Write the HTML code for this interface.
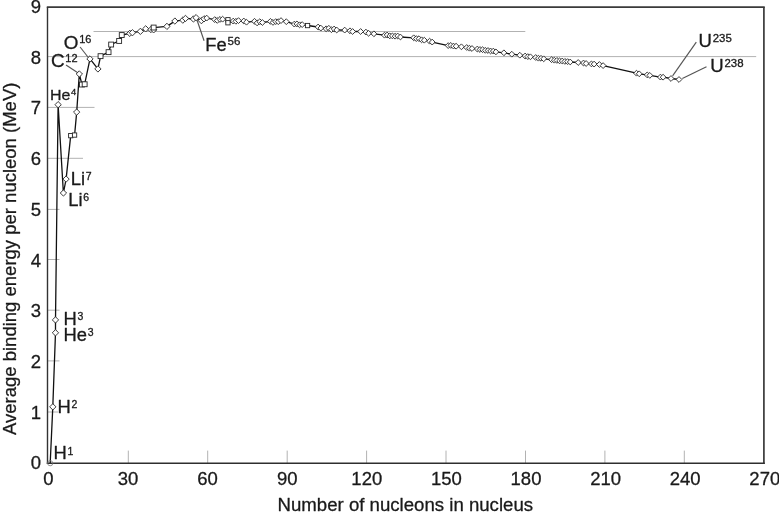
<!DOCTYPE html>
<html lang="en"><head><meta charset="utf-8"><title>Binding energy per nucleon</title>
<style>
html,body{margin:0;padding:0;background:#fff;}
svg{display:block;font-family:"Liberation Sans",Arial,Helvetica,sans-serif;fill:#1a1a1a;}
text{stroke:#1a1a1a;stroke-width:0.3px;stroke-linejoin:round}
.t{font-size:18.5px}
.l{font-size:17.5px}
.s{font-size:11px}
.s2{font-size:9.5px}
.g{stroke:#b2b2b2;stroke-width:1;fill:none}
.ld{stroke:#555;stroke-width:1.15;fill:none}
.m{fill:#fff;stroke:#262626;stroke-width:0.9}
</style></head><body>
<svg width="779" height="512" viewBox="0 0 779 512">
<rect width="779" height="512" fill="#fff"/>
<line class="g" x1="93.5" y1="31.5" x2="525.3" y2="31.5"/>
<line class="g" x1="48" y1="56.6" x2="756.2" y2="56.6"/>
<line class="g" x1="48" y1="107.4" x2="94.5" y2="107.4"/>
<line class="g" x1="48" y1="158.3" x2="83" y2="158.3"/>
<line class="g" x1="48" y1="209.4" x2="59.5" y2="209.4"/>
<line class="g" x1="48" y1="259.5" x2="59.5" y2="259.5"/>
<line class="g" x1="48" y1="310.2" x2="59.5" y2="310.2"/>
<line class="g" x1="48" y1="360.9" x2="59.5" y2="360.9"/>
<line class="g" x1="48" y1="412.0" x2="58" y2="412.0"/>
<line class="g" x1="128.3" y1="450.6" x2="128.3" y2="463"/>
<line class="g" x1="207.7" y1="450.6" x2="207.7" y2="463"/>
<line class="g" x1="287.2" y1="450.6" x2="287.2" y2="463"/>
<line class="g" x1="366.6" y1="450.6" x2="366.6" y2="463"/>
<line class="g" x1="446.0" y1="450.6" x2="446.0" y2="463"/>
<line class="g" x1="525.5" y1="450.6" x2="525.5" y2="463"/>
<line class="g" x1="604.9" y1="450.6" x2="604.9" y2="463"/>
<line class="g" x1="684.3" y1="450.6" x2="684.3" y2="463"/>
<line x1="46.8" y1="7.05" x2="764.75" y2="7.05" stroke="#3a3a3a" stroke-width="1.8"/>
<line x1="47.5" y1="7.05" x2="47.5" y2="463.9" stroke="#333" stroke-width="1.4"/>
<line x1="763.9" y1="7.05" x2="763.9" y2="463.9" stroke="#3a3a3a" stroke-width="1.7"/>
<line x1="46.8" y1="463.2" x2="764.75" y2="463.2" stroke="#2e2e2e" stroke-width="1.35"/>
<line class="ld" x1="80.1" y1="47" x2="88.3" y2="57.5"/>
<line class="ld" x1="66" y1="65.1" x2="77.8" y2="72.8"/>
<line class="ld" x1="196.9" y1="19.8" x2="204.1" y2="40.8"/>
<line class="ld" x1="696.3" y1="42.2" x2="672.6" y2="75.9"/>
<line class="ld" x1="706.5" y1="66.8" x2="682.3" y2="78.5"/>
<path d="M50.2 463.2 L52.8 406.8 L55.5 332.8 L55.5 319.9 L58.1 104.7 L63.4 193.0 L66.1 179.1 L70.7 135.6 L74.6 135.0 L76.7 112.1 L79.3 74.0 L82.0 84.6 L84.6 84.3 L90.0 58.9 L97.9 68.9 L100.6 56.1 L108.5 52.1 L111.2 44.5 L119.1 40.9 L121.8 35.0 L129.8 33.4 L132.4 32.7 L140.4 31.4 L145.7 28.8 L151.0 29.5 L153.6 29.8 L153.6 27.6 L166.9 26.4 L174.9 21.1 L182.8 20.1 L185.5 18.4 L193.4 19.0 L196.1 17.7 L201.4 20.6 L204.0 18.8 L206.7 18.1 L214.7 19.6 L217.3 20.4 L220.0 19.4 L222.6 19.2 L227.9 19.7 L227.9 22.8 L233.2 21.1 L235.9 21.3 L238.5 20.6 L243.8 21.0 L246.5 22.2 L254.5 21.3 L257.1 22.9 L259.8 21.7 L262.4 22.5 L270.4 21.4 L273.0 22.4 L275.7 21.6 L278.3 21.7 L281.0 20.6 L286.3 21.7 L294.3 24.1 L296.9 23.9 L299.6 24.8 L302.2 24.6 L307.5 25.5 L318.1 27.0 L320.8 28.1 L326.1 28.8 L328.8 28.3 L331.4 29.7 L334.1 29.0 L336.7 30.0 L344.7 30.1 L350.0 30.8 L352.6 31.5 L360.6 31.5 L365.9 32.1 L368.6 33.3 L373.9 33.8 L384.5 35.2 L387.1 35.0 L389.8 35.9 L392.4 35.9 L395.1 36.2 L397.7 36.0 L400.4 37.0 L413.7 37.8 L416.3 38.6 L419.0 38.7 L421.6 39.8 L424.3 40.2 L429.6 41.2 L432.2 42.1 L448.2 45.6 L450.8 45.4 L453.5 46.1 L456.1 46.2 L461.4 46.8 L466.7 47.5 L469.4 48.2 L472.0 48.5 L477.3 49.0 L480.0 49.5 L482.6 49.7 L485.3 50.3 L488.0 50.5 L490.6 51.0 L493.3 51.1 L495.9 51.9 L503.9 52.8 L511.8 54.2 L519.8 55.2 L525.1 56.0 L527.8 56.6 L530.4 56.8 L535.7 57.5 L538.4 58.2 L541.0 58.3 L543.7 58.8 L551.6 59.7 L554.3 60.2 L556.9 60.4 L559.6 60.9 L562.2 61.0 L564.9 61.4 L567.6 61.6 L570.2 62.0 L578.2 62.5 L583.5 63.0 L586.1 63.5 L591.4 63.9 L594.1 64.1 L599.4 64.5 L603.1 65.6 L636.5 73.2 L639.2 73.8 L647.2 74.9 L649.8 75.4 L660.4 77.1 L663.1 77.2 L671.0 78.5 L679.0 79.5" fill="none" stroke="#111" stroke-width="1.3" stroke-linejoin="round"/>
<circle cx="50.2" cy="463.2" r="2.6" fill="none" stroke="#777" stroke-width="0.8"/>
<path class="m" d="M49.7 406.8L52.8 403.7L56.0 406.8L52.8 410.0Z"/>
<path class="m" d="M52.3 332.8L55.5 329.6L58.6 332.8L55.5 335.9Z"/>
<path class="m" d="M52.3 319.9L55.5 316.8L58.6 319.9L55.5 323.1Z"/>
<path class="m" d="M55.0 104.7L58.1 101.5L61.3 104.7L58.1 107.8Z"/>
<path class="m" d="M60.3 193.0L63.4 189.8L66.6 193.0L63.4 196.1Z"/>
<path class="m" d="M62.9 179.1L66.1 175.9L69.2 179.1L66.1 182.2Z"/>
<rect class="m" x="68.6" y="133.5" width="4.3" height="4.3"/>
<rect class="m" x="72.4" y="132.9" width="4.3" height="4.3"/>
<path class="m" d="M73.5 112.1L76.7 108.9L79.8 112.1L76.7 115.2Z"/>
<path class="m" d="M76.2 74.0L79.3 70.8L82.5 74.0L79.3 77.1Z"/>
<rect class="m" x="79.5" y="82.1" width="4.9" height="4.9"/>
<rect class="m" x="82.2" y="81.8" width="4.9" height="4.9"/>
<path class="m" d="M86.8 58.9L90.0 55.8L93.1 58.9L90.0 62.1Z"/>
<path class="m" d="M94.8 68.9L97.9 65.8L101.1 68.9L97.9 72.1Z"/>
<rect class="m" x="98.1" y="53.7" width="4.9" height="4.9"/>
<rect class="m" x="106.1" y="49.7" width="4.9" height="4.9"/>
<rect class="m" x="108.7" y="42.1" width="4.9" height="4.9"/>
<rect class="m" x="116.7" y="38.5" width="4.9" height="4.9"/>
<rect class="m" x="119.3" y="32.6" width="4.9" height="4.9"/>
<path class="m" d="M126.6 33.4L129.8 30.2L132.9 33.4L129.8 36.5Z"/>
<path class="m" d="M129.3 32.7L132.4 29.6L135.6 32.7L132.4 35.9Z"/>
<path class="m" d="M137.2 31.4L140.4 28.2L143.5 31.4L140.4 34.5Z"/>
<path class="m" d="M142.5 28.8L145.7 25.7L148.8 28.8L145.7 32.0Z"/>
<path class="m" d="M147.8 29.5L151.0 26.4L154.1 29.5L151.0 32.7Z"/>
<path class="m" d="M150.5 29.8L153.6 26.7L156.8 29.8L153.6 33.0Z"/>
<rect class="m" x="151.2" y="25.1" width="4.9" height="4.9"/>
<path class="m" d="M163.8 26.4L166.9 23.2L170.1 26.4L166.9 29.5Z"/>
<path class="m" d="M171.7 21.1L174.9 17.9L178.0 21.1L174.9 24.2Z"/>
<path class="m" d="M179.7 20.1L182.8 17.0L186.0 20.1L182.8 23.3Z"/>
<path class="m" d="M182.3 18.4L185.5 15.3L188.6 18.4L185.5 21.6Z"/>
<path class="m" d="M190.3 19.0L193.4 15.8L196.6 19.0L193.4 22.1Z"/>
<path class="m" d="M192.9 17.7L196.1 14.5L199.2 17.7L196.1 20.8Z"/>
<path class="m" d="M198.2 20.6L201.4 17.5L204.5 20.6L201.4 23.8Z"/>
<path class="m" d="M200.9 18.8L204.0 15.7L207.2 18.8L204.0 22.0Z"/>
<path class="m" d="M203.8 18.1L206.7 15.2L209.6 18.1L206.7 21.0Z"/>
<path class="m" d="M211.8 19.6L214.7 16.7L217.6 19.6L214.7 22.5Z"/>
<path class="m" d="M214.4 20.4L217.3 17.5L220.2 20.4L217.3 23.3Z"/>
<path class="m" d="M217.1 19.4L220.0 16.5L222.9 19.4L220.0 22.3Z"/>
<path class="m" d="M219.7 19.2L222.6 16.3L225.5 19.2L222.6 22.1Z"/>
<rect class="m" x="225.8" y="17.6" width="4.3" height="4.3"/>
<rect class="m" x="225.8" y="20.6" width="4.3" height="4.3"/>
<path class="m" d="M230.3 21.1L233.2 18.2L236.1 21.1L233.2 24.0Z"/>
<path class="m" d="M233.0 21.3L235.9 18.4L238.8 21.3L235.9 24.2Z"/>
<path class="m" d="M235.6 20.6L238.5 17.7L241.4 20.6L238.5 23.5Z"/>
<path class="m" d="M240.9 21.0L243.8 18.1L246.7 21.0L243.8 23.9Z"/>
<path class="m" d="M243.6 22.2L246.5 19.3L249.4 22.2L246.5 25.1Z"/>
<path class="m" d="M251.6 21.3L254.5 18.4L257.4 21.3L254.5 24.2Z"/>
<path class="m" d="M254.2 22.9L257.1 20.0L260.0 22.9L257.1 25.8Z"/>
<path class="m" d="M256.9 21.7L259.8 18.8L262.7 21.7L259.8 24.6Z"/>
<path class="m" d="M259.5 22.5L262.4 19.6L265.3 22.5L262.4 25.4Z"/>
<path class="m" d="M267.5 21.4L270.4 18.5L273.3 21.4L270.4 24.3Z"/>
<path class="m" d="M270.1 22.4L273.0 19.5L275.9 22.4L273.0 25.3Z"/>
<path class="m" d="M272.8 21.6L275.7 18.7L278.6 21.6L275.7 24.5Z"/>
<path class="m" d="M275.4 21.7L278.3 18.8L281.2 21.7L278.3 24.6Z"/>
<path class="m" d="M278.1 20.6L281.0 17.7L283.9 20.6L281.0 23.5Z"/>
<path class="m" d="M283.4 21.7L286.3 18.8L289.2 21.7L286.3 24.6Z"/>
<path class="m" d="M291.4 24.1L294.3 21.2L297.2 24.1L294.3 27.0Z"/>
<path class="m" d="M294.0 23.9L296.9 21.0L299.8 23.9L296.9 26.8Z"/>
<path class="m" d="M296.7 24.8L299.6 21.9L302.5 24.8L299.6 27.7Z"/>
<path class="m" d="M299.3 24.6L302.2 21.7L305.1 24.6L302.2 27.5Z"/>
<rect class="m" x="305.4" y="23.4" width="4.3" height="4.3"/>
<path class="m" d="M315.2 27.0L318.1 24.1L321.0 27.0L318.1 29.9Z"/>
<path class="m" d="M317.9 28.1L320.8 25.2L323.7 28.1L320.8 31.0Z"/>
<path class="m" d="M323.2 28.8L326.1 25.9L329.0 28.8L326.1 31.7Z"/>
<path class="m" d="M325.9 28.3L328.8 25.4L331.7 28.3L328.8 31.2Z"/>
<path class="m" d="M328.5 29.7L331.4 26.8L334.3 29.7L331.4 32.6Z"/>
<path class="m" d="M331.2 29.0L334.1 26.1L337.0 29.0L334.1 31.9Z"/>
<path class="m" d="M333.8 30.0L336.7 27.1L339.6 30.0L336.7 32.9Z"/>
<path class="m" d="M341.8 30.1L344.7 27.2L347.6 30.1L344.7 33.0Z"/>
<path class="m" d="M347.1 30.8L350.0 27.9L352.9 30.8L350.0 33.7Z"/>
<path class="m" d="M349.7 31.5L352.6 28.6L355.5 31.5L352.6 34.4Z"/>
<path class="m" d="M357.7 31.5L360.6 28.6L363.5 31.5L360.6 34.4Z"/>
<path class="m" d="M363.0 32.1L365.9 29.2L368.8 32.1L365.9 35.0Z"/>
<path class="m" d="M365.7 33.3L368.6 30.4L371.5 33.3L368.6 36.2Z"/>
<path class="m" d="M371.0 33.8L373.9 30.9L376.8 33.8L373.9 36.7Z"/>
<path class="m" d="M381.6 35.2L384.5 32.3L387.4 35.2L384.5 38.1Z"/>
<path class="m" d="M384.2 35.0L387.1 32.1L390.0 35.0L387.1 37.9Z"/>
<path class="m" d="M386.9 35.9L389.8 33.0L392.7 35.9L389.8 38.8Z"/>
<path class="m" d="M389.5 35.9L392.4 33.0L395.3 35.9L392.4 38.8Z"/>
<path class="m" d="M392.2 36.2L395.1 33.3L398.0 36.2L395.1 39.1Z"/>
<path class="m" d="M394.8 36.0L397.7 33.1L400.6 36.0L397.7 38.9Z"/>
<path class="m" d="M397.5 37.0L400.4 34.1L403.3 37.0L400.4 39.9Z"/>
<path class="m" d="M410.8 37.8L413.7 34.9L416.6 37.8L413.7 40.7Z"/>
<path class="m" d="M413.4 38.6L416.3 35.7L419.2 38.6L416.3 41.5Z"/>
<path class="m" d="M416.1 38.7L419.0 35.8L421.9 38.7L419.0 41.6Z"/>
<path class="m" d="M418.7 39.8L421.6 36.9L424.5 39.8L421.6 42.7Z"/>
<path class="m" d="M421.4 40.2L424.3 37.3L427.2 40.2L424.3 43.1Z"/>
<path class="m" d="M426.7 41.2L429.6 38.3L432.5 41.2L429.6 44.1Z"/>
<path class="m" d="M429.3 42.1L432.2 39.2L435.1 42.1L432.2 45.0Z"/>
<path class="m" d="M445.3 45.6L448.2 42.7L451.1 45.6L448.2 48.5Z"/>
<path class="m" d="M447.9 45.4L450.8 42.5L453.7 45.4L450.8 48.3Z"/>
<path class="m" d="M450.6 46.1L453.5 43.2L456.4 46.1L453.5 49.0Z"/>
<path class="m" d="M453.2 46.2L456.1 43.3L459.0 46.2L456.1 49.1Z"/>
<path class="m" d="M458.5 46.8L461.4 43.9L464.3 46.8L461.4 49.7Z"/>
<path class="m" d="M463.8 47.5L466.7 44.6L469.6 47.5L466.7 50.4Z"/>
<path class="m" d="M466.5 48.2L469.4 45.3L472.3 48.2L469.4 51.1Z"/>
<path class="m" d="M469.1 48.5L472.0 45.6L474.9 48.5L472.0 51.4Z"/>
<path class="m" d="M474.4 49.0L477.3 46.1L480.2 49.0L477.3 51.9Z"/>
<path class="m" d="M477.1 49.5L480.0 46.6L482.9 49.5L480.0 52.4Z"/>
<path class="m" d="M479.7 49.7L482.6 46.8L485.5 49.7L482.6 52.6Z"/>
<path class="m" d="M482.4 50.3L485.3 47.4L488.2 50.3L485.3 53.2Z"/>
<path class="m" d="M485.1 50.5L488.0 47.6L490.9 50.5L488.0 53.4Z"/>
<path class="m" d="M487.7 51.0L490.6 48.1L493.5 51.0L490.6 53.9Z"/>
<path class="m" d="M490.4 51.1L493.3 48.2L496.2 51.1L493.3 54.0Z"/>
<path class="m" d="M493.0 51.9L495.9 49.0L498.8 51.9L495.9 54.8Z"/>
<path class="m" d="M501.0 52.8L503.9 49.9L506.8 52.8L503.9 55.7Z"/>
<path class="m" d="M508.9 54.2L511.8 51.3L514.7 54.2L511.8 57.1Z"/>
<path class="m" d="M516.9 55.2L519.8 52.3L522.7 55.2L519.8 58.1Z"/>
<path class="m" d="M522.2 56.0L525.1 53.1L528.0 56.0L525.1 58.9Z"/>
<path class="m" d="M524.9 56.6L527.8 53.7L530.7 56.6L527.8 59.5Z"/>
<path class="m" d="M527.5 56.8L530.4 53.9L533.3 56.8L530.4 59.7Z"/>
<path class="m" d="M532.8 57.5L535.7 54.6L538.6 57.5L535.7 60.4Z"/>
<path class="m" d="M535.5 58.2L538.4 55.3L541.3 58.2L538.4 61.1Z"/>
<path class="m" d="M538.1 58.3L541.0 55.4L543.9 58.3L541.0 61.2Z"/>
<path class="m" d="M540.8 58.8L543.7 55.9L546.6 58.8L543.7 61.7Z"/>
<path class="m" d="M548.7 59.7L551.6 56.8L554.5 59.7L551.6 62.6Z"/>
<path class="m" d="M551.4 60.2L554.3 57.3L557.2 60.2L554.3 63.1Z"/>
<path class="m" d="M554.0 60.4L556.9 57.5L559.8 60.4L556.9 63.3Z"/>
<path class="m" d="M556.7 60.9L559.6 58.0L562.5 60.9L559.6 63.8Z"/>
<path class="m" d="M559.3 61.0L562.2 58.1L565.1 61.0L562.2 63.9Z"/>
<path class="m" d="M562.0 61.4L564.9 58.5L567.8 61.4L564.9 64.3Z"/>
<path class="m" d="M564.7 61.6L567.6 58.7L570.5 61.6L567.6 64.5Z"/>
<path class="m" d="M567.3 62.0L570.2 59.1L573.1 62.0L570.2 64.9Z"/>
<path class="m" d="M575.3 62.5L578.2 59.6L581.1 62.5L578.2 65.4Z"/>
<path class="m" d="M580.6 63.0L583.5 60.1L586.4 63.0L583.5 65.9Z"/>
<path class="m" d="M583.2 63.5L586.1 60.6L589.0 63.5L586.1 66.4Z"/>
<path class="m" d="M588.5 63.9L591.4 61.0L594.3 63.9L591.4 66.8Z"/>
<path class="m" d="M591.2 64.1L594.1 61.2L597.0 64.1L594.1 67.0Z"/>
<path class="m" d="M596.5 64.5L599.4 61.6L602.3 64.5L599.4 67.4Z"/>
<path class="m" d="M600.2 65.6L603.1 62.7L606.0 65.6L603.1 68.5Z"/>
<path class="m" d="M633.6 73.2L636.5 70.3L639.4 73.2L636.5 76.1Z"/>
<path class="m" d="M636.3 73.8L639.2 70.9L642.1 73.8L639.2 76.7Z"/>
<path class="m" d="M644.3 74.9L647.2 72.0L650.1 74.9L647.2 77.8Z"/>
<path class="m" d="M646.9 75.4L649.8 72.5L652.7 75.4L649.8 78.3Z"/>
<path class="m" d="M657.5 77.1L660.4 74.2L663.3 77.1L660.4 80.0Z"/>
<path class="m" d="M660.2 77.2L663.1 74.3L666.0 77.2L663.1 80.1Z"/>
<path class="m" d="M668.1 78.5L671.0 75.6L673.9 78.5L671.0 81.4Z"/>
<path class="m" d="M676.1 79.5L679.0 76.6L681.9 79.5L679.0 82.4Z"/>
<text class="t" x="41.1" y="469.2" text-anchor="end">0</text>
<text class="t" x="41.1" y="418.5" text-anchor="end">1</text>
<text class="t" x="41.1" y="367.8" text-anchor="end">2</text>
<text class="t" x="41.1" y="317.1" text-anchor="end">3</text>
<text class="t" x="41.1" y="266.5" text-anchor="end">4</text>
<text class="t" x="41.1" y="215.8" text-anchor="end">5</text>
<text class="t" x="41.1" y="165.1" text-anchor="end">6</text>
<text class="t" x="41.1" y="114.4" text-anchor="end">7</text>
<text class="t" x="41.1" y="63.7" text-anchor="end">8</text>
<text class="t" x="41.1" y="13.1" text-anchor="end">9</text>
<text class="t" x="48.4" y="485.0" text-anchor="middle">0</text>
<text class="t" x="128.0" y="485.0" text-anchor="middle">30</text>
<text class="t" x="207.6" y="485.0" text-anchor="middle">60</text>
<text class="t" x="287.2" y="485.0" text-anchor="middle">90</text>
<text class="t" x="366.8" y="485.0" text-anchor="middle">120</text>
<text class="t" x="446.4" y="485.0" text-anchor="middle">150</text>
<text class="t" x="526.0" y="485.0" text-anchor="middle">180</text>
<text class="t" x="605.6" y="485.0" text-anchor="middle">210</text>
<text class="t" x="685.2" y="485.0" text-anchor="middle">240</text>
<text class="t" x="764.8" y="485.0" text-anchor="middle">270</text>
<text class="t" x="405.3" y="511.3" style="font-size:18.62px" text-anchor="middle">Number of nucleons in nucleus</text>
<text class="t" transform="translate(15.6 258.8) rotate(-90)" text-anchor="middle">Average binding energy per nucleon (MeV)</text>
<text transform="translate(53.5 459.4) scale(1.05 1)" style="font-size:17.5px">H<tspan dx="0.7" dy="-4.6" style="font-size:10px">1</tspan></text>
<text transform="translate(57.5 412.8) scale(1.05 1)" style="font-size:17.5px">H<tspan dx="0.7" dy="-4.6" style="font-size:10px">2</tspan></text>
<text transform="translate(63.5 324.5) scale(1.05 1)" style="font-size:17.5px">H<tspan dx="0.7" dy="-4.6" style="font-size:10px">3</tspan></text>
<text transform="translate(63.5 341) scale(1.05 1)" style="font-size:17.5px">He<tspan dx="0.7" dy="-4.6" style="font-size:10px">3</tspan></text>
<text transform="translate(70.8 185) scale(1.05 1)" style="font-size:17.5px">Li<tspan dx="0.7" dy="-4.6" style="font-size:10px">7</tspan></text>
<text transform="translate(68.3 206) scale(1.05 1)" style="font-size:17.5px">Li<tspan dx="0.7" dy="-4.6" style="font-size:10px">6</tspan></text>
<text transform="translate(50 99.8) scale(1.05 1)" style="font-size:15.2px">He<tspan dx="0.7" dy="-4.9" style="font-size:9px">4</tspan></text>
<text transform="translate(51 67) scale(1.02 1)" style="font-size:18.5px">C<tspan dx="0.7" dy="-5.5" style="font-size:10.8px">12</tspan></text>
<text transform="translate(63.8 48.5) scale(1.02 1)" style="font-size:18.5px">O<tspan dx="0.7" dy="-5.7" style="font-size:10.8px">16</tspan></text>
<text transform="translate(205.3 50.7) scale(1.05 1)" style="font-size:17.5px">Fe<tspan dx="0.7" dy="-5.3" style="font-size:11px">56</tspan></text>
<text transform="translate(698.6 46.7) scale(1.06 1)" style="font-size:17.5px">U<tspan dx="0.7" dy="-4.5" style="font-size:10.8px">235</tspan></text>
<text transform="translate(710.3 71.9) scale(1.06 1)" style="font-size:17.5px">U<tspan dx="0.7" dy="-4.6" style="font-size:10.8px">238</tspan></text>
</svg></body></html>
